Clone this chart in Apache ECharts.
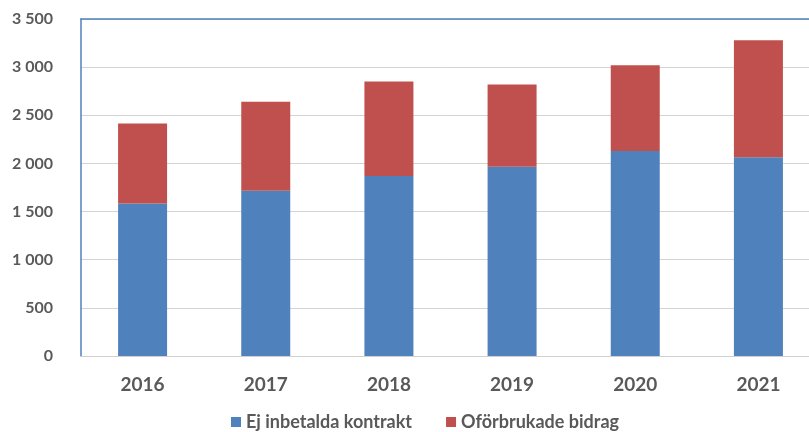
<!DOCTYPE html>
<html>
<head>
    <title>Kontrakt och bidrag</title>
    <meta charset="utf-8"/>
    <script src="https://cdn.jsdelivr.net/npm/echarts@6/dist/echarts.min.js"></script>
</head>
<body style="margin:0">
    <div id="myChart" style="height: 432px;width: 809px"></div>
</body>
<script type="text/javascript">
    // år på x-axeln
    var years = ['2016', '2017', '2018', '2019', '2020', '2021'];
    // Ej inbetalda kontrakt (nedre delen)
    var ejInbetalda = [1585, 1715, 1870, 1965, 2130, 2065];
    // Oförbrukade bidrag (övre delen)
    var oforbrukade = [830, 925, 980, 855, 890, 1215];
    var seriesNames = ['Ej inbetalda kontrakt', 'Oförbrukade bidrag'];

    var font = 'Lato, "Open Sans", sans-serif';
    var myChart = echarts.init(document.getElementById('myChart'));

    var fmt = function (v) {
        return String(v).replace(/\B(?=(\d{3})+(?!\d))/g, ' ');
    };

    var option = {
        animation: false,
        grid: {
            left: 81,
            top: 19,
            width: 739,
            height: 337,
            outerBoundsMode: 'none'
        },
        legend: {
            bottom: -4,
            left: 226,
            itemWidth: 10,
            itemHeight: 10,
            itemGap: 34,
            icon: 'rect',
            textStyle: {
                fontFamily: font,
                fontSize: 18,
                fontWeight: 'bold',
                color: '#595959'
            },
            data: seriesNames
        },
        xAxis: [{
            type: 'category',
            data: years,
            axisTick: { show: false },
            axisLine: { lineStyle: { color: '#d0d0d0', width: 1 } },
            axisLabel: {
                margin: 19,
                fontFamily: font,
                fontSize: 19,
                fontWeight: 'bold',
                color: '#595959'
            }
        }, {
            type: 'category',
            data: years,
            position: 'top',
            axisTick: { show: false },
            axisLabel: { show: false },
            axisLine: { lineStyle: { color: '#4F81BD', width: 1.5 } }
        }],
        yAxis: {
            type: 'value',
            min: 0,
            max: 3500,
            interval: 500,
            axisLine: { show: true, lineStyle: { color: '#4F81BD', width: 1.5 } },
            axisTick: { show: false },
            splitLine: { lineStyle: { color: '#d4d4d4', width: 1 } },
            axisLabel: {
                margin: 28,
                fontFamily: font,
                fontSize: 16,
                fontWeight: 'bold',
                color: '#595959',
                formatter: fmt
            }
        },
        series: [{
            name: seriesNames[0],
            type: 'bar',
            stack: 'total',
            barWidth: 49,
            itemStyle: { color: '#4F81BD' },
            data: ejInbetalda
        }, {
            name: seriesNames[1],
            type: 'bar',
            stack: 'total',
            barWidth: 49,
            itemStyle: { color: '#C0504D' },
            data: oforbrukade
        }]
    };
    myChart.setOption(option);
</script>
</html>
